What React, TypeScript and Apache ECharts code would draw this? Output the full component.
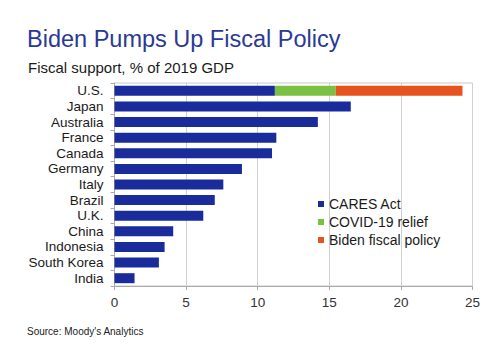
import React, { useEffect, useRef } from "react";
import * as echarts from "echarts";

const categories = ["U.S.", "Japan", "Australia", "France", "Canada", "Germany", "Italy", "Brazil", "U.K.", "China", "Indonesia", "South Korea", "India"];
const caresAct = [11.2, 16.5, 14.2, 11.3, 11.0, 8.9, 7.6, 7.0, 6.2, 4.1, 3.5, 3.1, 1.4];
const covidRelief = [4.25, "-", "-", "-", "-", "-", "-", "-", "-", "-", "-", "-", "-"];
const bidenPolicy = [8.85, "-", "-", "-", "-", "-", "-", "-", "-", "-", "-", "-", "-"];
const xTicks = { min: 0, max: 25, interval: 5 };

const FONT = "'Liberation Sans', Arial, sans-serif";

export default function App() {
  const ref = useRef<HTMLDivElement>(null);
  useEffect(() => {
    const chart = echarts.init(ref.current!, null, { renderer: "svg" });
    chart.setOption({
      animation: false,
      backgroundColor: "#ffffff",
      textStyle: { fontFamily: FONT },
      title: [
        {
          text: "Biden Pumps Up Fiscal Policy",
          left: 22,
          top: 22,
          textStyle: { color: "#2a3a94", fontSize: 23.5, fontWeight: "normal", fontFamily: FONT },
        },
        {
          text: "Fiscal support, % of 2019 GDP",
          left: 23,
          top: 55,
          textStyle: { color: "#1a1a1a", fontSize: 15, fontWeight: "normal", fontFamily: FONT },
        },
        {
          text: "Source: Moody's Analytics",
          left: 22,
          top: 321,
          textStyle: { color: "#222222", fontSize: 10, fontWeight: "normal", fontFamily: FONT },
        },
      ],
      legend: {
        orient: "vertical",
        left: 313,
        top: 192,
        itemWidth: 6,
        itemHeight: 6,
        itemGap: 4,
        icon: "rect",
        textStyle: { fontSize: 14, color: "#1a1a1a", fontFamily: FONT, padding: [0, 0, 0, 0] },
        data: ["CARES Act", "COVID-19 relief", "Biden fiscal policy"],
      },
      grid: {
        left: 114.5,
        right: 27.5,
        top: 83,
        bottom: 67,
        show: true,
        borderColor: "#c8c8c8",
        borderWidth: 1,
      },
      xAxis: {
        type: "value",
        min: xTicks.min,
        max: xTicks.max,
        interval: xTicks.interval,
        axisLine: { show: true, lineStyle: { color: "#aaaaaa" } },
        axisTick: { show: true, length: 4, lineStyle: { color: "#aaaaaa" } },
        axisLabel: { fontSize: 13.5, color: "#333333", margin: 9, fontFamily: FONT },
        splitLine: { show: true, lineStyle: { color: "#d0d0d0" } },
      },
      yAxis: {
        type: "category",
        data: categories,
        inverse: true,
        axisLine: { show: true, lineStyle: { color: "#aaaaaa" } },
        axisTick: { show: true, length: 4, interval: 0, alignWithLabel: false, lineStyle: { color: "#aaaaaa" } },
        axisLabel: { interval: 0, fontSize: 13.5, color: "#1a1a1a", margin: 11, fontFamily: FONT },
        splitLine: { show: false },
      },
      series: [
        {
          name: "CARES Act",
          type: "bar",
          stack: "total",
          data: caresAct,
          barWidth: 10,
          itemStyle: { color: "#1a2c9c" },
        },
        {
          name: "COVID-19 relief",
          type: "bar",
          stack: "total",
          data: covidRelief,
          barWidth: 10,
          itemStyle: { color: "#7ac143" },
        },
        {
          name: "Biden fiscal policy",
          type: "bar",
          stack: "total",
          data: bidenPolicy,
          barWidth: 10,
          itemStyle: { color: "#e6531f" },
        },
      ],
    });
    return () => chart.dispose();
  }, []);
  return <div ref={ref} style={{ position: "fixed", left: 0, top: 0, width: 500, height: 353 }} />;
}
